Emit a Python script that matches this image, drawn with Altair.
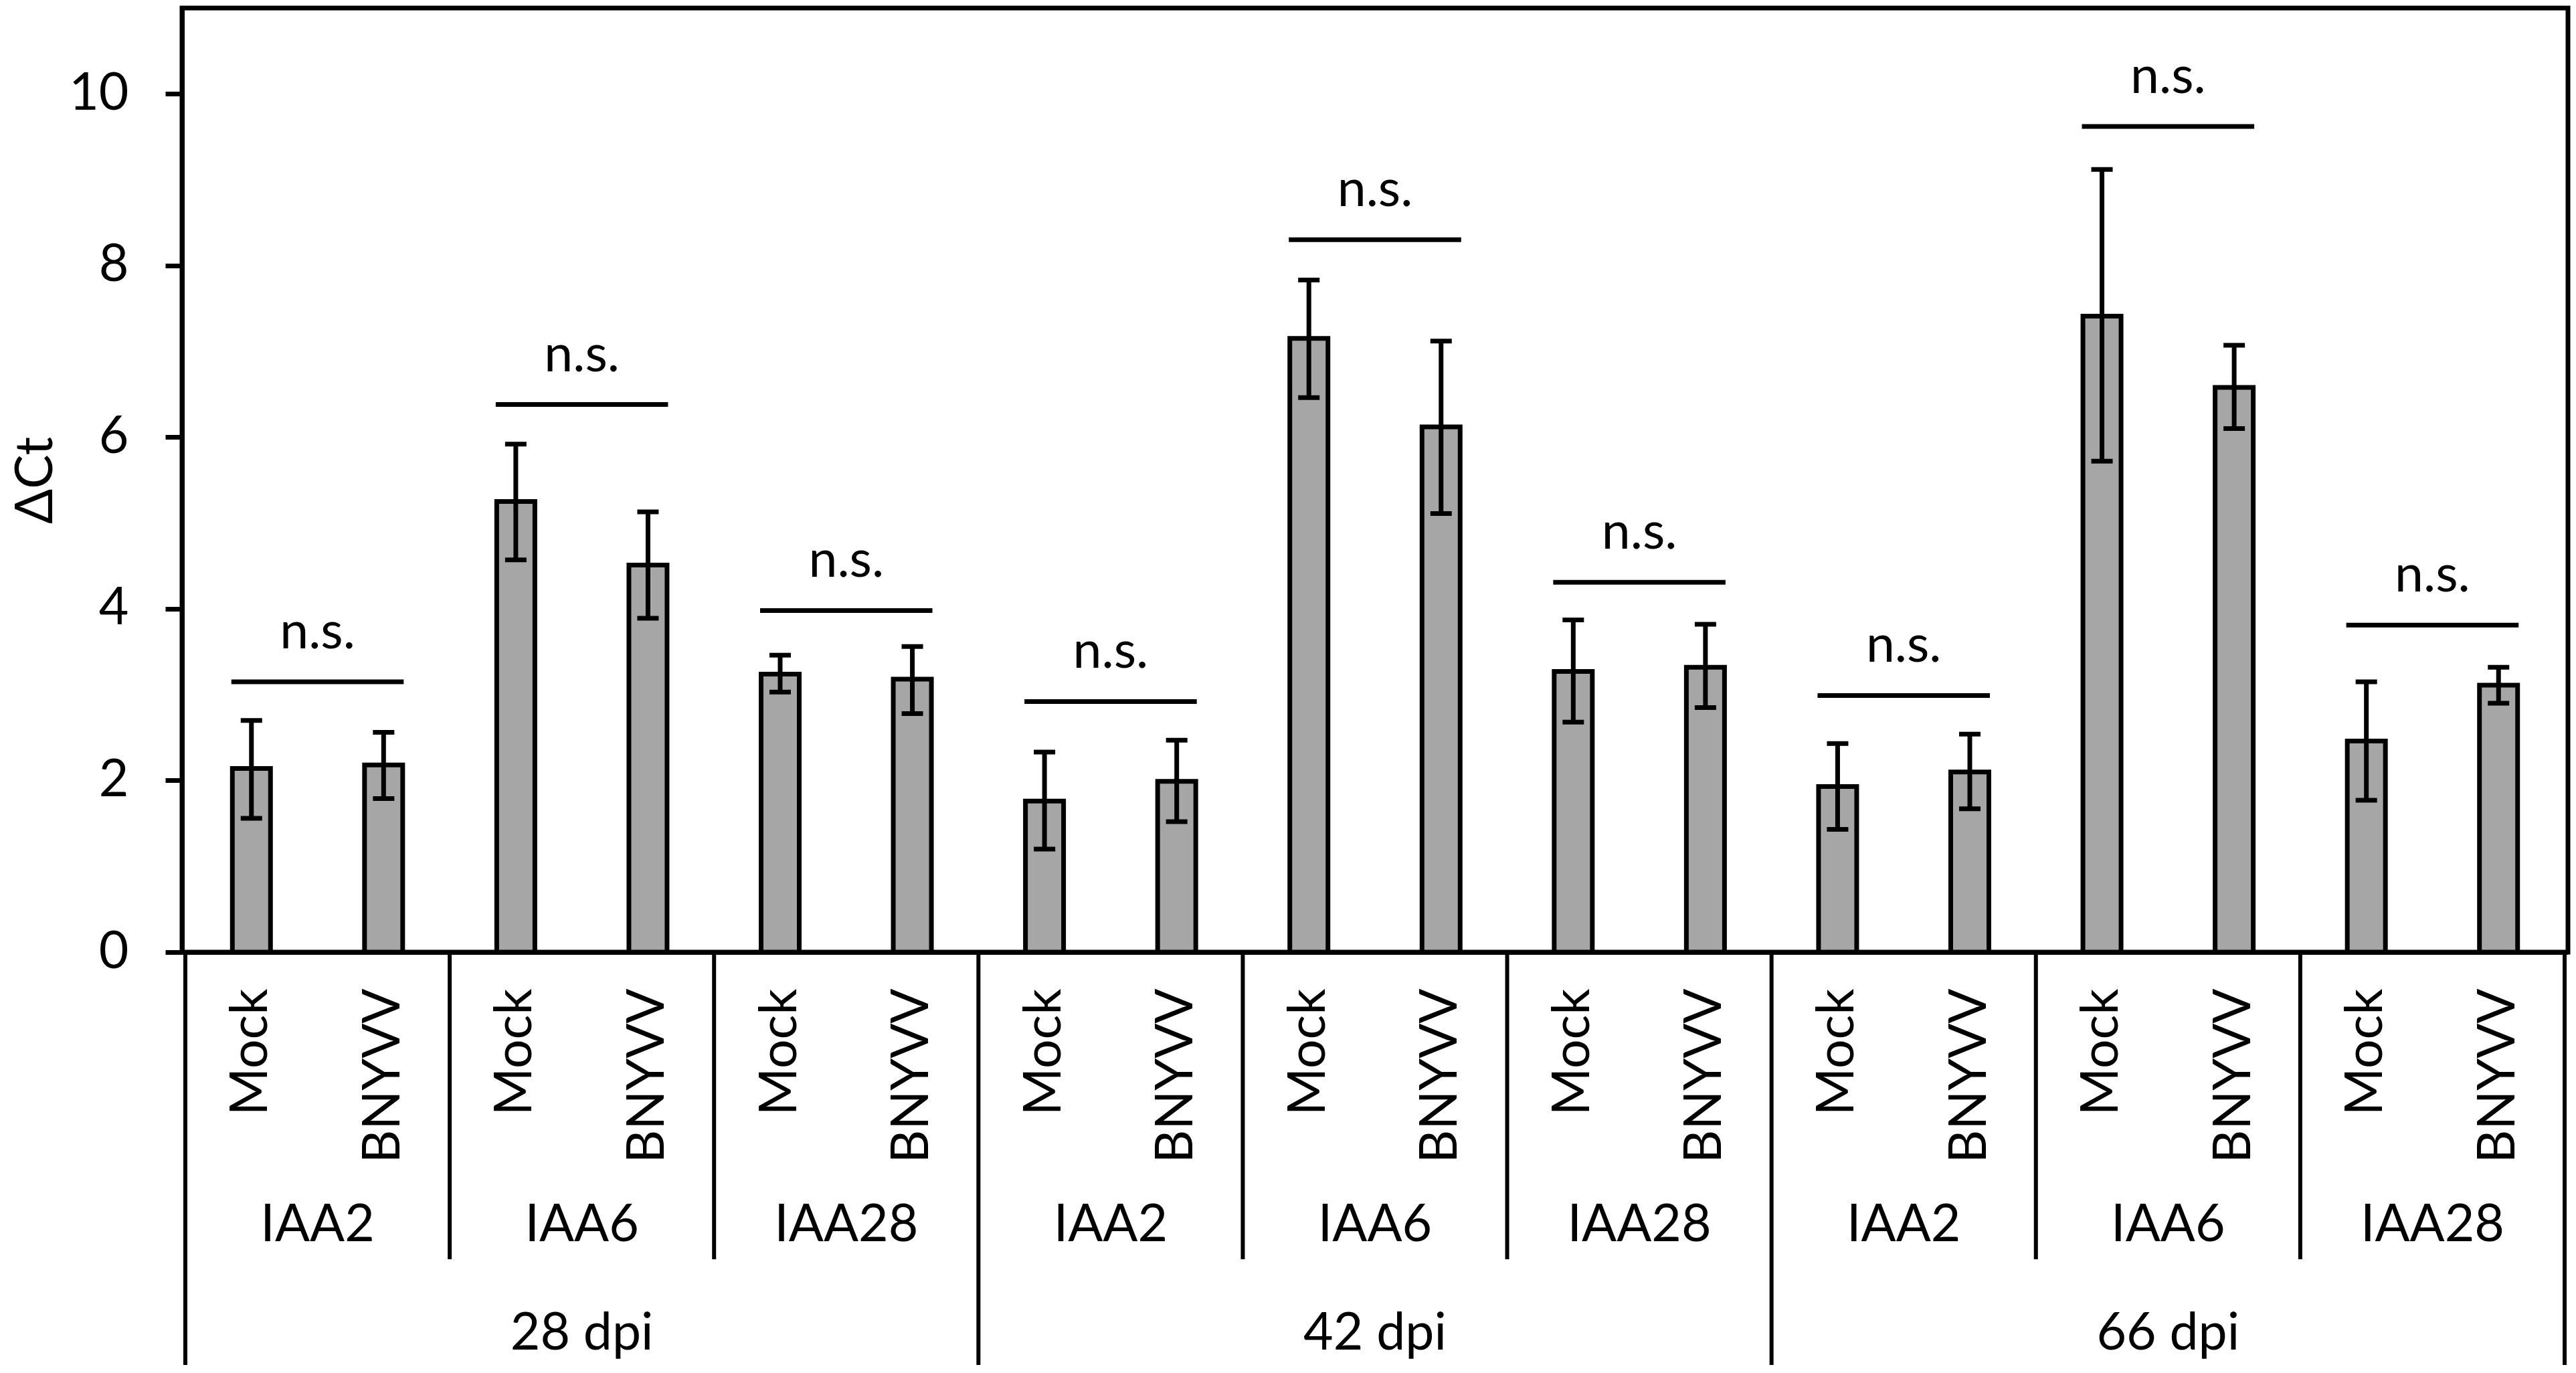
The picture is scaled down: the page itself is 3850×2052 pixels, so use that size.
import json
import altair as alt
import pandas as pd

# ---- data ----
dpis = ["28 dpi", "42 dpi", "66 dpi"]
genes = ["IAA2", "IAA6", "IAA28"]
treatments = ["Mock", "BNYVV"]

means = [2.14, 2.18, 5.25, 4.51, 3.24, 3.18,
         1.76, 1.99, 7.15, 6.12, 3.27, 3.32,
         1.93, 2.10, 7.41, 6.58, 2.46, 3.11]
err_lo = [1.56, 1.79, 4.57, 3.89, 3.03, 2.78,
          1.20, 1.52, 6.46, 5.11, 2.68, 2.85,
          1.43, 1.67, 5.72, 6.10, 1.77, 2.90]
err_hi = [2.70, 2.56, 5.92, 5.13, 3.46, 3.56,
          2.33, 2.47, 7.83, 7.12, 3.87, 3.82,
          2.43, 2.54, 9.12, 7.07, 3.15, 3.32]
ns_level = [3.15, 6.38, 3.98, 2.92, 8.30, 4.31, 2.99, 9.62, 3.81]
ns_label = ["n.s."] * 9

y_ticks = [0, 2, 4, 6, 8, 10]
y_max = 11

# ---- tables ----
n_t, n_g, n_d = len(treatments), len(genes), len(dpis)
rows = []
for i, (m, lo, hi) in enumerate(zip(means, err_lo, err_hi)):
    rows.append(dict(pos=i + 0.5, mean=m, lo=lo, hi=hi,
                     treat=treatments[i % n_t]))
df = pd.DataFrame(rows)

ns_rows = []
for k, (lvl, lab) in enumerate(zip(ns_level, ns_label)):
    ns_rows.append(dict(x1=k * n_t + 0.5, x2=k * n_t + n_t - 0.5,
                        xc=k * n_t + n_t / 2, level=lvl, label=lab))
ns_df = pd.DataFrame(ns_rows)

gene_rows = []
gene_sep = []
for d in range(n_d):
    for g in range(n_g):
        k = d * n_g + g
        gene_rows.append(dict(xc=k * n_t + n_t / 2, label=genes[g]))
        if g > 0:
            gene_sep.append(dict(x=k * n_t))
gene_df = pd.DataFrame(gene_rows)
gene_sep_df = pd.DataFrame(gene_sep)

span = n_g * n_t
dpi_df = pd.DataFrame([dict(xc=d * span + span / 2, label=dpis[d]) for d in range(n_d)])
dpi_sep_df = pd.DataFrame([dict(x=d * span) for d in range(n_d + 1)])

# ---- layout ----
W, H = 3566, 1411
FONT = "Lato"
FS = 77
LW = 7
n_bars = len(means)

xscale = alt.Scale(domain=[0, n_bars], nice=False, zero=False)
yscale = alt.Scale(domain=[0, y_max], nice=False)

label_arr = json.dumps([treatments[i % n_t] for i in range(n_bars)])
xaxis = alt.Axis(values=[i + 0.5 for i in range(n_bars)],
                 labelExpr=f"{label_arr}[floor(datum.value)]",
                 title=None, grid=False, ticks=False,
                 labelAngle=270, labelAlign="right", labelBaseline="middle",
                 labelPadding=54, labelFontSize=FS, labelFont=FONT,
                 labelColor="black", labelFlush=False, labelOverlap=False,
                 labelBound=False, labelLimit=0,
                 domainColor="black", domainWidth=LW)
yaxis = alt.Axis(values=y_ticks, format="d", title="ΔCt", grid=False,
                 tickSize=25, tickWidth=LW, tickColor="black",
                 labelPadding=55, labelFontSize=FS, labelFont=FONT,
                 labelColor="black", labelLimit=0,
                 domainColor="black", domainWidth=LW,
                 titleFont=FONT, titleFontSize=FS, titleFontWeight="normal",
                 titleColor="black", titleAngle=270, titleX=-218, titleY=H / 2,
                 titleAlign="center", titleBaseline="middle")

base = alt.Chart(df)

bars = base.mark_bar(orient="vertical", width=57, fill="#a6a6a6",
                     stroke="black", strokeWidth=LW).encode(
    x=alt.X("pos:Q", scale=xscale, axis=xaxis),
    y=alt.Y("mean:Q", scale=yscale, axis=yaxis),
    y2=alt.datum(0),
)

stems = base.mark_rule(color="black", strokeWidth=LW).encode(
    x="pos:Q", y="lo:Q", y2="hi:Q")
cap_lo = base.mark_rule(color="black", strokeWidth=LW, xOffset=-16, x2Offset=16).encode(
    x="pos:Q", x2="pos:Q", y="lo:Q")
cap_hi = base.mark_rule(color="black", strokeWidth=LW, xOffset=-16, x2Offset=16).encode(
    x="pos:Q", x2="pos:Q", y="hi:Q")

ns_base = alt.Chart(ns_df)
ns_lines = ns_base.mark_rule(color="black", strokeWidth=LW, xOffset=-30, x2Offset=30).encode(
    x="x1:Q", x2="x2:Q", y="level:Q")
ns_text = ns_base.mark_text(baseline="alphabetic", dy=-50, fontSize=FS, font=FONT,
                            color="black").encode(
    x="xc:Q", y="level:Q", text="label:N")

BOTTOM = 617
gene_lines = alt.Chart(gene_sep_df).mark_rule(color="black", strokeWidth=6).encode(
    x="x:Q", y=alt.value(H), y2=alt.value(H + 459))
dpi_lines = alt.Chart(dpi_sep_df).mark_rule(color="black", strokeWidth=6).encode(
    x="x:Q", y=alt.value(H), y2=alt.value(H + BOTTOM))

gene_text = alt.Chart(gene_df).mark_text(baseline="alphabetic", fontSize=FS, font=FONT,
                                         color="black").encode(
    x="xc:Q", y=alt.value(H + 432), text="label:N")
dpi_text = alt.Chart(dpi_df).mark_text(baseline="alphabetic", fontSize=FS, font=FONT,
                                       color="black").encode(
    x="xc:Q", y=alt.value(H + 594), text="label:N")

chart = alt.layer(
    bars, stems, cap_lo, cap_hi, ns_lines, ns_text,
    gene_lines, dpi_lines, gene_text, dpi_text
).properties(
    width=W, height=H,
    autosize=alt.AutoSizeParams(type="none"),
    padding={"left": 264, "top": 4, "right": 4, "bottom": BOTTOM},
    background="white",
).configure_view(
    stroke="black", strokeWidth=LW
).configure_text(font=FONT)

chart.save("out.html", embed_options={"renderer": "svg", "actions": False})
